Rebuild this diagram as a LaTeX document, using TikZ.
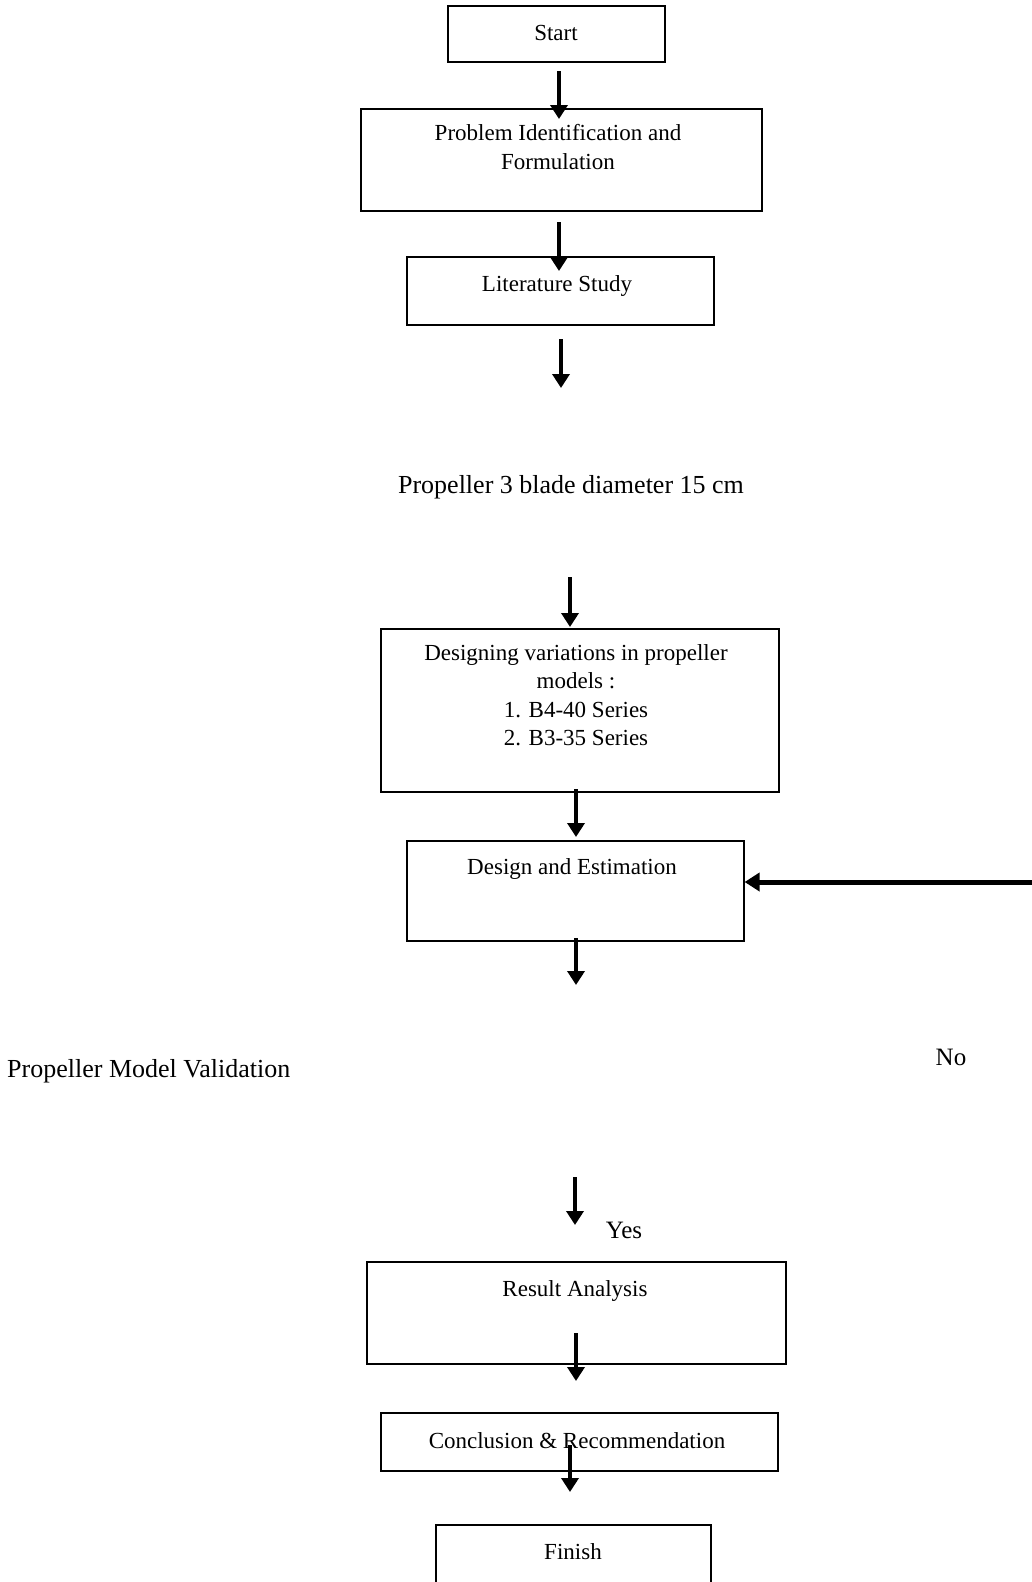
\documentclass[tikz,border=0pt]{standalone}
\usepackage{fontspec}
\setmainfont{Liberation Serif}
\usetikzlibrary{arrows.meta}
\begin{document}
\begin{tikzpicture}[x=1pt,y=-1pt,
  box/.style={draw, line width=1.2pt, rectangle, inner sep=0pt},
  txt/.style={inner sep=0pt, font=\fontsize{23}{28.5}\selectfont, align=center},
  big/.style={inner sep=0pt, font=\fontsize{26}{30}\selectfont},
  mid/.style={inner sep=0pt, font=\fontsize{25}{30}\selectfont},
  arr/.style={line width=3.8pt, -{Triangle[width=17pt,length=14pt]}},
]
\useasboundingbox (0,0) rectangle (1032,1582);
\clip (0,0) rectangle (1032,1582);
\fill[white] (0,0) rectangle (1032,1582);

% boxes
\node[box, minimum width=217pt, minimum height=56pt] (start) at (556.5,34) {};
\node[box, minimum width=401pt, minimum height=102pt] (prob) at (561.5,160) {};
\node[box, minimum width=307pt, minimum height=68pt] (lit) at (560.5,291) {};
\node[box, minimum width=398pt, minimum height=163pt] (var) at (580,710.5) {};
\node[box, minimum width=337pt, minimum height=100pt] (des) at (575.5,891) {};
\node[box, minimum width=419pt, minimum height=102pt] (res) at (576.5,1313) {};
\node[box, minimum width=397pt, minimum height=58pt] (conc) at (579.5,1442) {};
\node[box, minimum width=275pt, minimum height=100pt] (fin) at (573.5,1575) {};

% texts
\node[txt] (startT) at (556,33) {Start};
\node[txt] (probT) at (558,147) {Problem Identification and\\Formulation};
\node[txt] (litT) at (557,286) {Literature Study};
\node[big] (prop) at (571,487) {Propeller 3 blade diameter 15 cm};
\node[txt] (varT) at (576,695) {Designing variations in propeller\\models :\\1. B4-40 Series\\2. B3-35 Series};
\node[txt] (desT) at (572,869) {Design and Estimation};
\node[big, anchor=west] (valid) at (7,1071) {Propeller Model Validation};
\node[mid] (no) at (951,1057) {No};
\node[mid] (yes) at (624,1230) {Yes};
\node[txt] (resT) at (575,1291) {Result Analysis};
\node[txt] (concT) at (577,1441) {Conclusion \& Recommendation};
\node[txt] (finT) at (573,1552) {Finish};

\coordinate (rightEnd) at (1034,882);

% arrows
\draw[arr] (559,71) -- (559,119);
\draw[arr] (559,222) -- (559,271);
\draw[arr] (561,339) -- (561,388);
\draw[arr] (570,577) -- (570,627);
\draw[arr] (576,789) -- (576,837);
\draw[arr, line width=5pt, -{Triangle[width=18pt,length=15pt]}] (rightEnd) -- (des.east |- rightEnd);
\draw[arr] (576,938) -- (576,985);
\draw[arr] (575,1177) -- (575,1225);
\draw[arr] (576,1333) -- (576,1381);
\draw[arr] (570,1445) -- (570,1492);
\end{tikzpicture}
\end{document}
